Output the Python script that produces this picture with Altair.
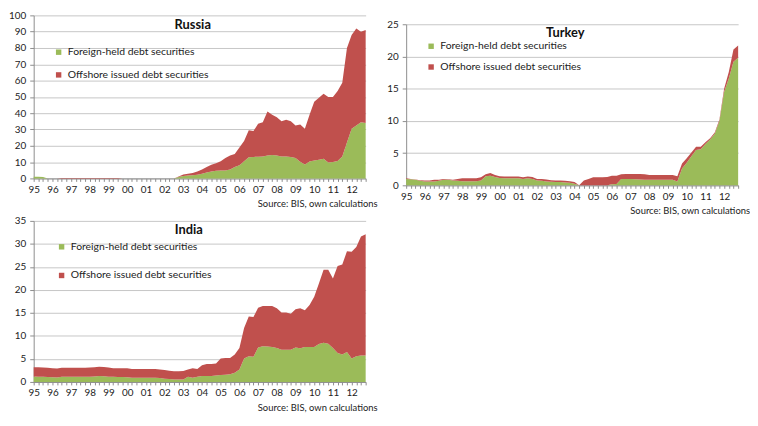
import altair as alt
import pandas as pd

FOREIGN = "Foreign-held debt securities"
OFFSHORE = "Offshore issued debt securities"
GREEN = "#9BBB59"
RED = "#C0504D"
FONT = "Lato"
SOURCE = "Source: BIS, own calculations"

# quarterly periods 1995Q1 .. 2012Q4
quarters = [1995 + i * 0.25 for i in range(72)]

# ---- Russia ----
russia_foreign = [
    1.0, 1.0, 0.9, 0.0,
    0.0, 0.0, 0.0, 0.0,
    0.0, 0.0, 0.0, 0.0,
    0.0, 0.0, 0.0, 0.0,
    0.0, 0.0, 0.0, 0.0,
    0.0, 0.0, 0.0, 0.0,
    0.0, 0.0, 0.0, 0.0,
    0.0, 0.0, 0.0, 0.8,
    1.5, 1.8, 2.0, 2.3,
    2.8, 3.6, 4.2, 4.7,
    4.8, 4.8, 5.5, 7.0,
    8.0, 10.5, 13.0, 13.2,
    13.3, 13.4, 14.0, 14.4,
    14.0, 13.5, 13.4, 13.2,
    12.5, 10.2, 8.6, 10.3,
    11.0, 11.4, 12.0, 9.8,
    10.0, 10.6, 13.5, 22.0,
    30.5, 32.5, 34.5, 34.0,
]
russia_offshore = [
    0.0, 0.0, 0.0, 0.0,
    0.0, 0.0, 0.2, 0.3,
    0.3, 0.3, 0.3, 0.3,
    0.3, 0.3, 0.3, 0.3,
    0.3, 0.3, 0.2, 0.0,
    0.0, 0.0, 0.0, 0.0,
    0.0, 0.0, 0.0, 0.0,
    0.0, 0.0, 0.0, 0.4,
    0.9, 1.0, 1.3, 1.9,
    2.6, 3.4, 4.2, 4.6,
    5.7, 7.7, 8.5, 8.0,
    11.0, 12.5, 16.5, 15.8,
    20.2, 21.1, 27.0, 24.6,
    23.5, 21.5, 22.6, 21.8,
    20.0, 22.8, 21.9, 28.7,
    36.0, 38.1, 40.0, 40.2,
    40.0, 43.0, 45.1, 58.0,
    57.5, 59.5, 55.5, 57.0,
]

# ---- Turkey ----
turkey_foreign = [
    1.0, 0.95, 0.85, 0.7,
    0.6, 0.6, 0.6, 0.7,
    0.85, 0.85, 0.75, 0.7,
    0.65, 0.65, 0.65, 0.65,
    0.75, 1.4, 1.5, 1.3,
    1.15, 1.1, 1.1, 1.1,
    1.1, 1.0, 1.1, 1.0,
    0.75, 0.7, 0.6, 0.55,
    0.5, 0.5, 0.45, 0.4,
    0.25, 0.0, 0.0, 0.0,
    0.0, 0.0, 0.0, 0.0,
    0.15, 0.2, 1.0, 1.0,
    1.0, 0.95, 0.9, 0.85,
    0.85, 0.85, 0.85, 0.85,
    0.85, 0.85, 0.6, 2.6,
    3.5, 4.5, 5.5, 5.6,
    6.4, 7.1, 8.0, 10.0,
    14.5, 16.6, 19.2, 19.8,
]
turkey_offshore = [
    0.1, 0.05, 0.05, 0.1,
    0.15, 0.15, 0.25, 0.15,
    0.15, 0.1, 0.1, 0.3,
    0.45, 0.45, 0.45, 0.45,
    0.5, 0.3, 0.4, 0.3,
    0.25, 0.25, 0.25, 0.25,
    0.25, 0.25, 0.25, 0.3,
    0.25, 0.3, 0.3, 0.25,
    0.25, 0.25, 0.25, 0.25,
    0.25, 0.0, 0.75, 1.0,
    1.25, 1.25, 1.25, 1.3,
    1.35, 1.3, 0.7, 0.75,
    0.75, 0.8, 0.85, 0.85,
    0.75, 0.75, 0.75, 0.75,
    0.75, 0.75, 0.8, 0.8,
    0.7, 0.6, 0.5, 0.4,
    0.3, 0.2, 0.2, 0.2,
    0.5, 1.0, 1.9, 1.9,
]

# ---- India ----
india_foreign = [
    1.2, 1.15, 1.1, 1.05,
    1.0, 0.95, 1.1, 1.1,
    1.1, 1.1, 1.1, 1.1,
    1.15, 1.2, 1.3, 1.25,
    1.15, 1.1, 1.05, 1.05,
    1.0, 0.9, 0.9, 0.9,
    0.9, 0.9, 0.9, 0.85,
    0.7, 0.65, 0.55, 0.55,
    0.55, 1.1, 0.9, 1.1,
    1.3, 1.3, 1.3, 1.4,
    1.5, 1.55, 1.65, 2.0,
    2.7, 5.1, 5.6, 5.45,
    7.5, 7.75, 7.7, 7.6,
    7.4, 7.0, 7.0, 7.0,
    7.5, 7.3, 7.6, 7.6,
    7.6, 8.25, 8.5, 8.3,
    7.4, 6.3, 5.95, 6.5,
    5.1, 5.6, 5.75, 5.75,
]
india_offshore = [
    2.0, 2.05, 2.05, 2.05,
    2.0, 1.95, 2.0, 2.0,
    2.0, 2.0, 2.0, 2.0,
    2.0, 2.0, 2.0, 2.0,
    2.0, 1.9, 1.95, 1.9,
    1.95, 1.9, 1.9, 1.9,
    1.9, 1.9, 1.9, 1.85,
    1.9, 1.8, 1.75, 1.75,
    1.8, 1.6, 2.05, 1.7,
    2.35, 2.6, 2.6, 2.6,
    3.6, 3.65, 3.55, 3.95,
    4.7, 6.6, 8.6, 8.65,
    8.6, 8.75, 8.8, 8.9,
    8.6, 8.1, 8.1, 7.8,
    8.3, 8.7, 8.0, 9.1,
    10.9, 13.15, 15.9, 16.1,
    15.1, 18.9, 19.55, 21.9,
    23.2, 23.7, 25.85, 26.35,
]

W = 336


def panel(name, foreign, offshore, ymax, ystep, height, yrange,
          title_xy, legend_xy, row_pad, src_y):
    rows = []
    for t, f, o in zip(quarters, foreign, offshore):
        rows.append({"t": t, "v": f, "s": FOREIGN, "o": 0})
        rows.append({"t": t, "v": o, "s": OFFSHORE, "o": 1})
    df = pd.DataFrame(rows)

    yscale = dict(domain=[0, ymax], nice=False, zero=True)
    if yrange is not None:
        yscale["range"] = yrange

    area = alt.Chart(df).mark_area(interpolate="linear", opacity=1).encode(
        x=alt.X("t:Q",
                scale=alt.Scale(domain=[1995, 2012.75], nice=False, zero=False),
                axis=alt.Axis(values=quarters, title=None, grid=False,
                              labelExpr="datum.value % 1 == 0 ? substring(toString(datum.value), 2, 4) : ''",
                              labelFlush=False, labelOverlap=False,
                              tickSize=3, labelPadding=3)),
        y=alt.Y("v:Q", stack="zero", scale=alt.Scale(**yscale),
                axis=alt.Axis(values=list(range(0, ymax + 1, ystep)), title=None,
                              grid=True, tickSize=4, labelPadding=4)),
        color=alt.Color("s:N",
                        scale=alt.Scale(domain=[FOREIGN, OFFSHORE], range=[GREEN, RED]),
                        legend=alt.Legend(orient="none", legendX=legend_xy[0],
                                          legendY=legend_xy[1], title=None,
                                          symbolType="square", symbolSize=30,
                                          symbolStrokeWidth=0, labelFont=FONT,
                                          labelFontSize=10.5, labelColor="#222222",
                                          rowPadding=row_pad, padding=0,
                                          labelOffset=4)),
        order=alt.Order("o:Q"),
    )

    title = alt.Chart(pd.DataFrame({"label": [name]})).mark_text(
        font=FONT, fontSize=13, fontWeight="bold", color="#111111",
        align="center", baseline="middle"
    ).encode(x=alt.value(title_xy[0]), y=alt.value(title_xy[1]), text="label:N")

    source = alt.Chart(pd.DataFrame({"label": [SOURCE]})).mark_text(
        font=FONT, fontSize=9.5, color="#222222", align="right", baseline="middle"
    ).encode(x=alt.value(W + 12), y=alt.value(src_y), text="label:N")

    return alt.layer(area, title, source).properties(width=W, height=height)


russia = panel("Russia", russia_foreign, russia_offshore, 100, 10, 165, None,
               (161, 10), (20, 32), 12, 191)
turkey = panel("Turkey", turkey_foreign, turkey_offshore, 25, 5, 172, [172, 9],
               (161, 18), (20, 26), 10, 198)
india = panel("India", india_foreign, india_offshore, 35, 5, 163, None,
              (157, 9), (23, 21), 18, 189)

chart = alt.concat(
    russia, turkey, india, columns=2,
    spacing={"row": 36, "column": 41}, bounds="flush"
).resolve_scale(
    x="independent", y="independent", color="independent"
).resolve_legend(
    color="independent"
).properties(
    padding={"left": 0, "top": 0, "right": 0, "bottom": 0}
).configure_axis(
    labelFont=FONT, labelFontSize=10, labelColor="#222222",
    domainColor="#8c8c8c", tickColor="#8c8c8c", gridColor="#c6c6c6",
    domainWidth=1, gridWidth=1
).configure_view(stroke=None)

chart.save("out.html", embed_options={"renderer": "svg", "actions": False})
